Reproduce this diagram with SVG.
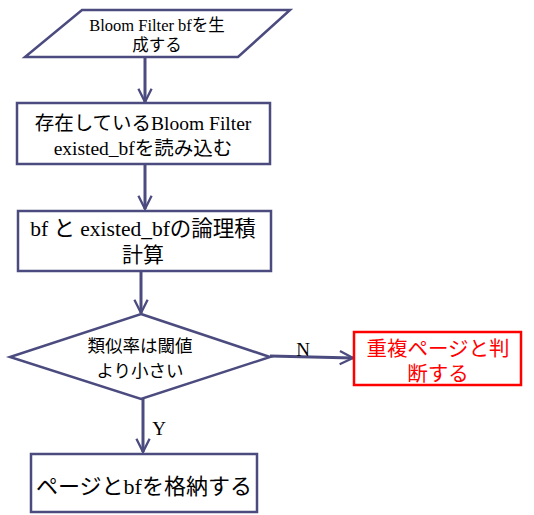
<svg xmlns="http://www.w3.org/2000/svg" width="534" height="515" viewBox="0 0 534 515">
<style>
.s{fill:#fff;stroke:#4b4b7f;stroke-width:2.5}
.r{fill:#fff;stroke:#ff0000;stroke-width:2.5}
text{font-family:"Liberation Serif","Noto Sans CJK JP",serif;fill:#000;text-anchor:middle}
.c{stroke:#4b4b7f;stroke-width:3;fill:none}
</style>
<defs>
<marker id="a" viewBox="0 0 10 10" refX="9" refY="5" markerWidth="5.5" markerHeight="5.5" orient="auto" markerUnits="strokeWidth">
<path d="M1,1 L9,5 L1,9" fill="none" stroke="#4b4b7f" stroke-width="1.4"/>
</marker>
</defs>
<g id="connectors">
<line class="c" x1="145" y1="57" x2="145" y2="102" marker-end="url(#a)"/>
<line class="c" x1="145" y1="164" x2="145" y2="209" marker-end="url(#a)"/>
<line class="c" x1="141" y1="271" x2="141" y2="313" marker-end="url(#a)"/>
<line class="c" x1="270" y1="356" x2="353" y2="358" marker-end="url(#a)"/>
<line class="c" x1="143" y1="399" x2="143" y2="452" marker-end="url(#a)"/>
<text x="303" y="356" font-size="19">N</text>
<text x="159" y="435" font-size="19">Y</text>
</g>
<g id="n1">
<polygon class="s" points="82,10 290,10 238,57 25,57"/>
<text x="157" y="31" font-size="16.5">Bloom Filter bfを生</text>
<text x="157" y="51" font-size="16.5">成する</text>
</g>
<g id="n2">
<rect class="s" x="17" y="103" width="253" height="61"/>
<text x="143" y="130" font-size="19.5">存在しているBloom Filter</text>
<text x="143" y="155" font-size="19.5">existed_bfを読み込む</text>
</g>
<g id="n3">
<rect class="s" x="18" y="211" width="253" height="60"/>
<text x="143" y="236" font-size="21.5">bf と existed_bfの論理積</text>
<text x="143" y="262" font-size="21">計算</text>
</g>
<g id="n4">
<polygon class="s" points="141,314 270,357 141,399 10,357"/>
<text x="140" y="352" font-size="17.5">類似率は閾値</text>
<text x="140" y="377" font-size="17.5">より小さい</text>
</g>
<g id="n5">
<rect class="r" x="354" y="332" width="167" height="53"/>
<text x="438" y="356" font-size="20.5" style="fill:#ff0000">重複ページと判</text>
<text x="438" y="381" font-size="20.5" style="fill:#ff0000">断する</text>
</g>
<g id="n6">
<rect class="s" x="31" y="454" width="226" height="58"/>
<text x="144" y="494" font-size="22">ページとbfを格納する</text>
</g>
</svg>
